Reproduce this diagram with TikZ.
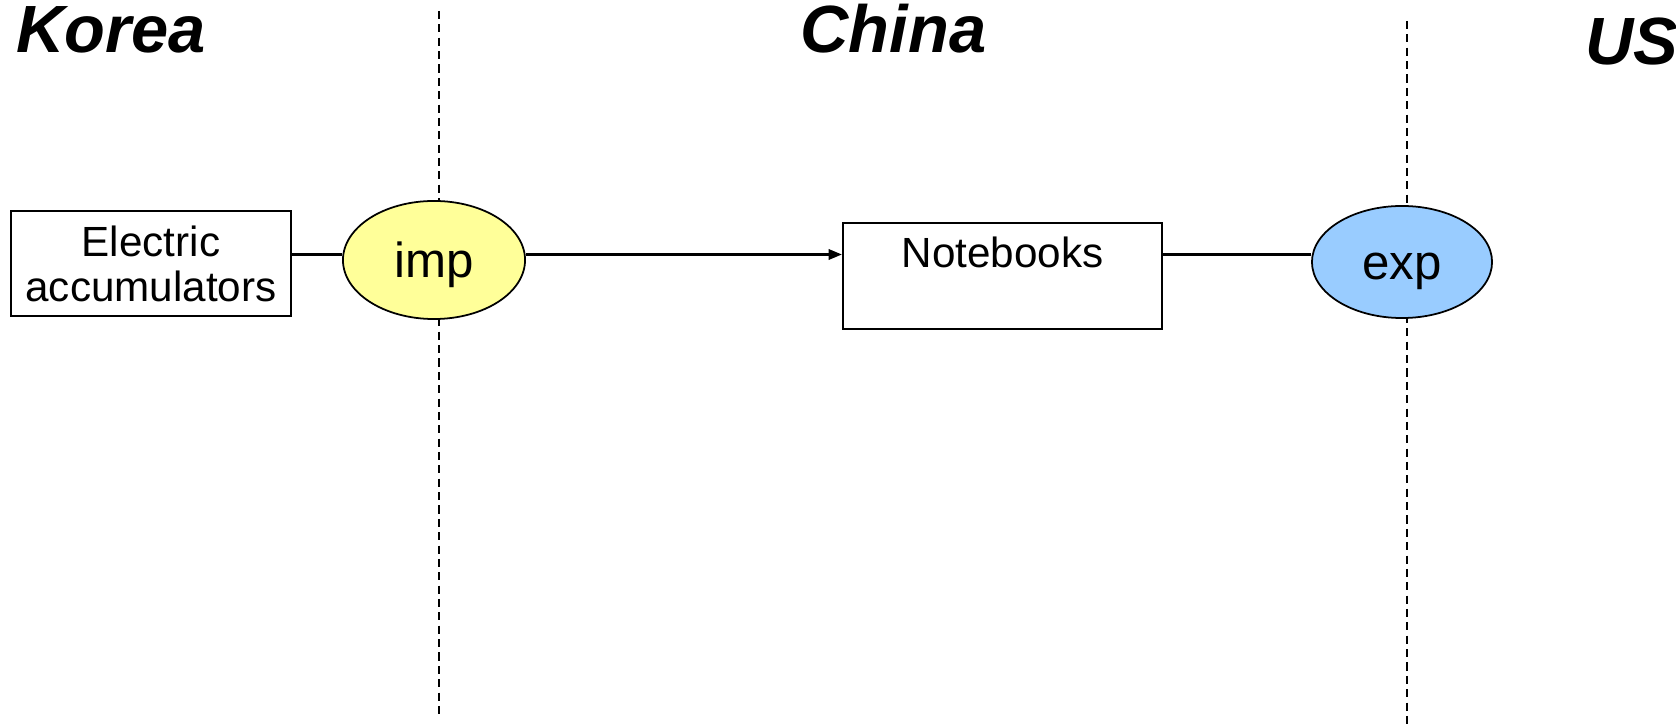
\documentclass[tikz,border=0pt]{standalone}
\usepackage{fontspec}
\setmainfont{Liberation Sans}
\usetikzlibrary{shapes.geometric,arrows.meta}

\begin{document}
\begin{tikzpicture}[x=0.01cm, y=-0.01cm,
	country/.style={anchor=base west, inner sep=0, font=\fontsize{19}{19}\selectfont\bfseries\itshape},
	goods/.style={draw, line width=0.6pt, inner sep=0, align=center, font=\fontsize{12}{12.8}\selectfont},
	trade/.style={ellipse, draw, line width=0.5pt, inner sep=0, text height=0.44cm, text depth=0.10cm, font=\fontsize{14}{14}\selectfont},
	border/.style={line width=0.5pt, dash pattern=on 2.3pt off 1.5pt},
	link/.style={line width=0.8pt}]
\useasboundingbox (0,0) rectangle (1676,728);
\draw[border] (439,11) -- (439,718);
\draw[border] (1407,21) -- (1407,728);
\node[country] (korea) at (16,53) {Korea};
\node[country] (china) at (800,53) {China};
\node[country] (us) at (1585,65) {US};
\node[goods, minimum width=2.80cm, minimum height=1.05cm] (acc) at (151,263.5) {Electric\\accumulators};
\node[trade, fill={rgb,255:red,255;green,255;blue,153}, minimum width=1.82cm, minimum height=1.18cm] (imp) at (434,260) {imp};
\node[goods, minimum width=3.19cm, text height=0.44cm, text depth=0.62cm, anchor=north] (nb) at (1002.5,222) {Notebooks};
\node[trade, fill={rgb,255:red,153;green,204;blue,255}, minimum width=1.80cm, minimum height=1.12cm] (exp) at (1402,262) {exp};
\coordinate (lane) at (0,254.5);
\path[link] (acc.east |- lane) edge (imp.west |- lane);
\path[-{Triangle[length=3.8pt,width=3pt]}, line width=0.6pt] (imp.east |- lane) edge (nb.west |- lane);
\path[link, line width=1pt] (nb.east |- lane) edge (exp.west |- lane);
\end{tikzpicture}
\end{document}
